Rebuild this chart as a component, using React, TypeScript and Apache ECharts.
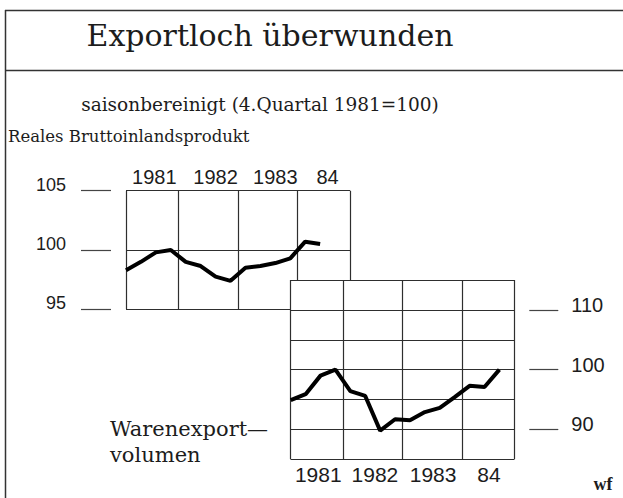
import React, { useEffect, useRef } from 'react';
import * as echarts from 'echarts';

// Quarterly values, 1981 Q1 .. 1984 Q4 (index 0..15), 4. Quartal 1981 = 100
const gdpValues = [98.3, 99.0, 99.8, 100.0, 99.0, 98.65, 97.75, 97.4, 98.5, 98.65, 98.9, 99.3, 100.7, 100.5];
const exportValues = [94.9, 95.9, 99.0, 100.0, 96.4, 95.6, 89.8, 91.7, 91.55, 92.9, 93.6, 95.4, 97.3, 97.1, 100.0];

const yearLabels = ['1981', '1982', '1983', '84'];
const upperYearPos = [1.9, 6.0, 10.0, 13.5];
const lowerYearPos = [1.85, 5.65, 9.55, 13.3];
const yearBreaks = [0, 3.5, 7.5, 11.5, 15];
const gdpTicks = [95, 100, 105];
const exportTicks = [90, 100, 110];

const ink = '#1c1c1c';
const gridInk = '#2e2e2e';
const tickInk = '#444';
const numFont = '"Liberation Sans"';
const serif = '"DejaVu Serif"';

function text(t: string, x: number, y: number, size: number, align: string, extra: any = {}) {
  return {
    type: 'text',
    z: 20,
    style: {
      text: t,
      x,
      y,
      fill: ink,
      fontSize: size,
      fontFamily: serif,
      align,
      textAlign: align,
      verticalAlign: 'middle',
      textVerticalAlign: 'middle',
      ...extra,
    },
  };
}

export default function App() {
  const ref = useRef<HTMLDivElement>(null);
  useEffect(() => {
    if (!ref.current) return;
    const chart = echarts.init(ref.current, undefined, { renderer: 'svg' });
    const lineStyle = { color: gridInk, width: 1.2 };
    const yearLabel = (pos: number[], size: number, margin: number) => ({
      customValues: pos,
      formatter: (v: number) => {
        const i = pos.indexOf(v);
        return i >= 0 ? yearLabels[i] : '';
      },
      margin,
      fontSize: size,
      fontFamily: numFont,
      color: ink,
    });
    chart.setOption({
      animation: false,
      backgroundColor: '#fff',
      grid: [
        { left: 126, top: 190.7, width: 224, height: 118.6, show: false, z: 0 },
        { left: 290.7, top: 280, width: 223.6, height: 179.3, show: true, backgroundColor: '#fff', borderWidth: 0, z: 2 },
      ],
      xAxis: [
        {
          type: 'value', gridIndex: 0, min: 0, max: 15, position: 'top', z: 1,
          axisLine: { show: false, onZero: false },
          axisTick: { show: false, customValues: yearBreaks },
          splitLine: { show: true, lineStyle },
          axisLabel: yearLabel(upperYearPos, 20, 4),
        },
        {
          type: 'value', gridIndex: 1, min: 0, max: 15, position: 'bottom', z: 3,
          axisLine: { show: false, onZero: false },
          axisTick: { show: false, customValues: yearBreaks },
          splitLine: { show: true, lineStyle },
          axisLabel: yearLabel(lowerYearPos, 21, 5),
        },
      ],
      yAxis: [
        {
          type: 'value', gridIndex: 0, min: 95, max: 105, position: 'left', offset: 15, z: 1,
          axisLine: { show: false, onZero: false },
          axisTick: { show: true, inside: false, length: 30, customValues: gdpTicks, lineStyle: { color: tickInk, width: 1.2 } },
          splitLine: { show: true, lineStyle },
          axisLabel: { customValues: gdpTicks, margin: 45, fontSize: 18, fontFamily: numFont, color: ink, verticalAlign: 'bottom', lineHeight: 12 },
        },
        {
          type: 'value', gridIndex: 1, min: 85, max: 115, interval: 5, position: 'left', z: 3,
          axisLine: { show: false, onZero: false },
          axisTick: { show: false },
          axisLabel: { show: false },
          splitLine: { show: true, lineStyle },
        },
        {
          type: 'value', gridIndex: 1, min: 85, max: 115, position: 'right', offset: 15, z: 3,
          axisLine: { show: false, onZero: false },
          axisTick: { show: true, inside: false, length: 29, customValues: exportTicks, lineStyle: { color: tickInk, width: 1.2 } },
          axisLabel: { customValues: exportTicks, margin: 42, fontSize: 20, fontFamily: numFont, color: ink, verticalAlign: 'bottom', lineHeight: 10 },
          splitLine: { show: false },
        },
      ],
      series: [
        {
          type: 'line', xAxisIndex: 0, yAxisIndex: 0, z: 5,
          data: gdpValues.map((v, i) => [i, v]),
          showSymbol: false, symbol: 'none',
          lineStyle: { color: '#000', width: 4 },
        },
        {
          type: 'line', xAxisIndex: 1, yAxisIndex: 1, z: 6,
          data: exportValues.map((v, i) => [i, v]),
          showSymbol: false, symbol: 'none',
          lineStyle: { color: '#000', width: 4 },
        },
      ],
      graphic: [
        { type: 'line', z: 20, shape: { x1: 5.5, y1: 10, x2: 5.5, y2: 498 }, style: { stroke: '#333', lineWidth: 1.5 } },
        { type: 'line', z: 20, shape: { x1: 5, y1: 10.5, x2: 623, y2: 10.5 }, style: { stroke: '#333', lineWidth: 1.5 } },
        { type: 'line', z: 20, shape: { x1: 5, y1: 70.5, x2: 623, y2: 70.5 }, style: { stroke: '#333', lineWidth: 1.5 } },
        text('Exportloch überwunden', 270, 35, 30, 'center'),
        text('saisonbereinigt (4.Quartal 1981=100)', 260, 104, 18.5, 'center'),
        text('Reales Bruttoinlandsprodukt', 8, 136, 16.5, 'left'),
        text('Warenexport—', 110, 429, 21, 'left'),
        text('volumen', 110, 455, 21, 'left'),
        text('wf', 603, 484, 18, 'center', { fontWeight: 'bold', fontFamily: '"Liberation Serif"' }),
      ],
    });
    return () => chart.dispose();
  }, []);
  return <div ref={ref} style={{ position: 'fixed', left: 0, top: 0, width: 623, height: 498 }} />;
}
